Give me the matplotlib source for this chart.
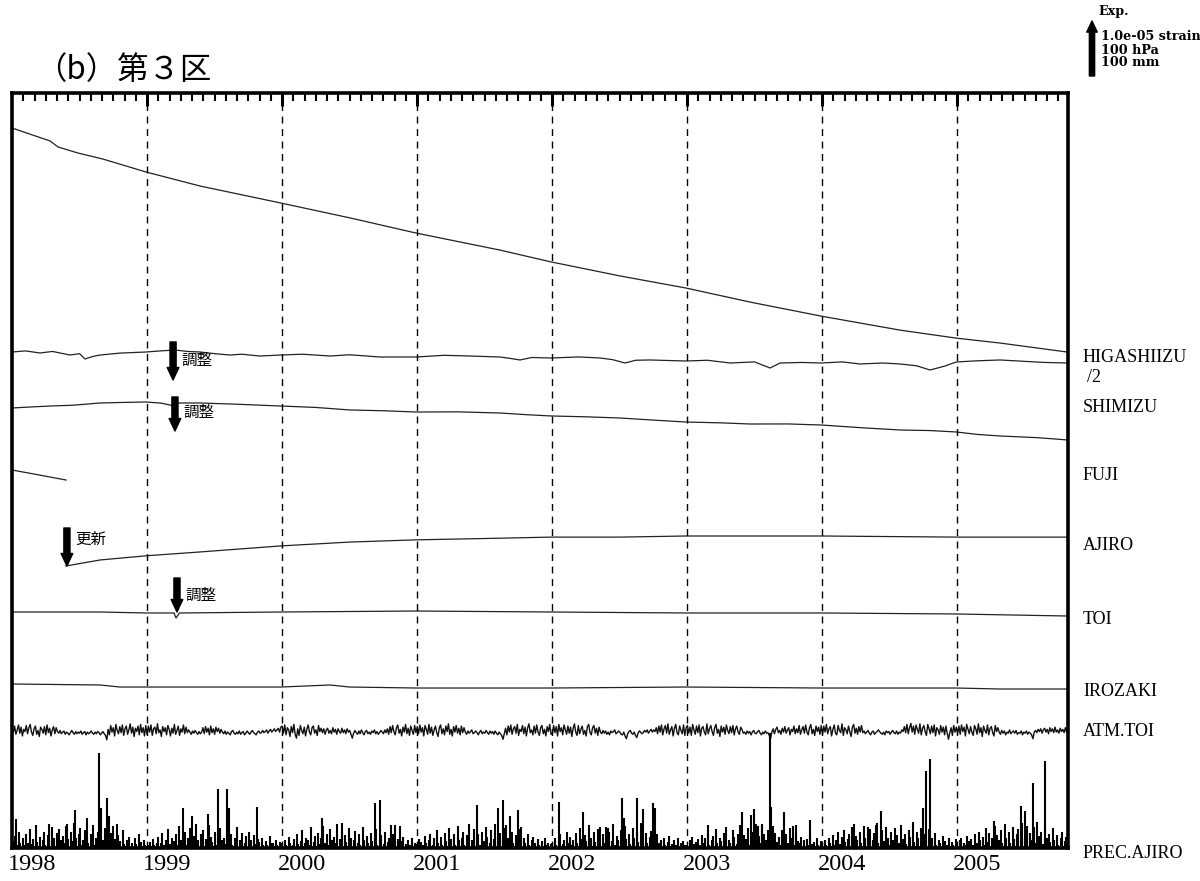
import numpy as np
import matplotlib
matplotlib.use("Agg")
import matplotlib.pyplot as plt
import matplotlib.transforms as mtransforms

# ---------------- data ----------------
years = [1998, 1999, 2000, 2001, 2002, 2003, 2004, 2005]
x_end = 2005.822

# strain traces: time (years since 1998.0) and strain change (1e-6)
higashiizu_t = [0.000, 0.281, 0.341, 0.489, 0.674, 0.993, 1.393, 1.993, 2.504, 2.993,
                3.615, 3.993, 4.504, 4.993, 5.467, 5.993, 6.578, 6.993, 7.319, 7.822]
higashiizu_v = [0.0, -4.7, -6.9, -9.1, -11.3, -16.0, -21.1, -27.3, -32.7, -38.2,
                -44.4, -48.7, -53.8, -58.2, -63.3, -68.4, -73.5, -76.4, -78.2, -81.5]

shimizu_t = [0.000, 0.100, 0.207, 0.300, 0.430, 0.500, 0.541, 0.600, 0.652, 0.800, 0.993,
             1.100, 1.207, 1.300, 1.393, 1.500, 1.615, 1.700, 1.837, 1.993, 2.150,
             2.356, 2.500, 2.726, 2.993, 3.200, 3.393, 3.615, 3.700, 3.763, 3.850, 3.993,
             4.200, 4.356, 4.450, 4.541, 4.620, 4.726, 4.993, 5.150, 5.319, 5.500, 5.615,
             5.689, 5.850, 5.993, 6.150, 6.281, 6.450, 6.578, 6.700, 6.800, 6.911, 6.993,
             7.150, 7.319, 7.500, 7.650, 7.822]
shimizu_v = [0.0, 0.2, -0.18, 0.1, -0.55, -0.3, -1.27, -0.8, -0.55, -0.2, 0.0,
             0.2, 0.36, 0.1, 0.0, -0.3, -0.55, -0.4, -0.73, -0.55, -0.4,
             -0.73, -0.5, -0.91, -0.91, -0.6, -0.73, -0.91, -1.2, -1.45, -1.0, -1.09,
             -0.9, -1.09, -1.4, -2.0, -1.5, -1.45, -1.64, -1.5, -2.0, -1.8, -2.91,
             -2.0, -1.9, -2.0, -1.8, -2.18, -2.0, -2.18, -2.5, -3.27, -2.55, -1.82,
             -1.6, -1.45, -1.7, -1.9, -2.0]

fuji_t = [0.000, 0.150, 0.281, 0.450, 0.652, 0.800, 0.993, 1.100, 1.207, 1.230, 1.393,
          1.650, 1.993, 2.250, 2.504, 2.750, 2.993, 3.300, 3.615, 3.800, 3.993, 4.250,
          4.504, 4.750, 4.993, 5.250, 5.467, 5.750, 5.993, 6.300, 6.578, 6.800, 6.993,
          7.150, 7.319, 7.600, 7.822]
fuji_v = [0.0, 0.2, 0.36, 0.5, 0.91, 1.0, 1.09, 0.9, 0.36, 0.91, 0.91,
          0.7, 0.36, 0.1, -0.36, -0.5, -0.73, -0.7, -0.91, -1.2, -1.45, -1.6,
          -1.82, -2.2, -2.55, -2.7, -2.91, -2.9, -3.09, -3.6, -4.0, -4.1, -4.36,
          -4.8, -5.09, -5.4, -5.82]

ajiro_t = [0.000, 0.200, 0.400, 0.400, 0.652, 0.993, 1.393, 1.993, 2.504, 2.993, 3.615,
           3.993, 4.504, 4.993, 5.993, 6.993, 7.822]
ajiro_v = [0.0, -0.9, -1.82, np.nan, -16.36, -15.6, -14.9, -13.8, -13.1, -12.7, -12.4,
           -12.2, -12.2, -12.0, -12.0, -12.2, -12.2]
ajiro_new_start = (0.400, -17.45)

toi_t = [0.000, 0.652, 0.993, 1.200, 1.215, 1.240, 1.993, 2.993, 3.993, 4.993, 5.993, 6.993, 7.822]
toi_v = [0.0, 0.0, -0.18, -0.18, -1.09, -0.18, 0.0, 0.18, 0.0, -0.18, -0.18, -0.36, -0.73]

irozaki_t = [0.000, 0.652, 0.800, 0.993, 1.993, 2.356, 2.500, 2.993, 3.993, 4.993, 5.993, 6.993, 7.319, 7.822]
irozaki_v = [0.0, -0.18, -0.55, -0.55, -0.55, -0.18, -0.55, -0.73, -0.73, -0.55, -0.73, -0.73, -0.91, -0.91]

# ATM.TOI pressure deviation (hPa), two samples per week
atm_1998 = [5,-3,9,-6,2,11,-4,7,-9,3,-1,10,-5,6,12,-2,-8,4,9,-6,1,-10,7,3,-4,8,-7,11,-3,5,-9,2,8,-5,6,
            -1,-4,1,-5,-2,0,-6,-2,-4,-7,-3,1,-3,-6,-1,-5,-2,-4,0,-6,-3,-1,-7,-2,-5,-3,0,-4,-6,-2,-5,-1,-3,-7,-4,-1,-5,-8,
            -16,
            3,-7,10,-2,6,-9,12,1,-5,8,-3,11,-8,4,9,-6,2,13,-4,7,-10,5,-1,9,-7,12,-3,6,-9,10]
atm_1999 = [-6,9,-2,11,-8,4,7,-5,13,-3,2,-10,8,-1,6,-7,10,3,-9,5,-4,12,-6,1,9,-8,4,-2,11,-5,7,-3,2,
            -2,-6,0,-4,1,-3,-6,-1,-5,-2,
            6,-5,8,-2,5,-7,9,-3,4,-6,7,-1,5,-4,3,
            -2,-5,0,-6,-2,-4,-7,-1,1,-4,-6,-2,-5,0,-6,-3,-1,-7,-4,0,-3,-6,-2,1,-3,-5,-7,-2,0,-4,-3,1,-3,-1,2,-4,0,3,-2,1,4,-1,2,
            5,-2,7]
atm_2000 = [9,-4,11,-7,6,2,-10,8,-3,12,-6,-13,4,-8,10,1,-5,7,-9,3,11,-2,-7,6,9,-4,2,-8,10,-1,5,
            -3,4,-6,2,5,-4,1,-5,6,-2,3,-6,4,-1,-4,5,-3,2,-5,4,-2,1,
            -6,-13,
            -4,1,-3,-6,0,-5,2,-3,-7,-1,1,-5,-2,-6,0,-3,2,-5,-1,-6,-3,1,-2,-5,2,-3,
            4,-6,8,-3,10,-1,-7,6,11,-4,3,-9,7,-2,12,-5,5,-8,9,1,-6,10,-3]
atm_2001 = [8,-5,11,-2,6,-9,10,3,-6,12,-4,7,-8,2,9,-3,-10,6,11,-5,4,-7,9,-1,13,-6,3,-9,8,-2,10,-4,5,-7,9,-3,6,
            -2,-6,0,-4,-1,2,-5,-3,0,-3,-7,-2,1,-5,-2,-4,1,-3,-6,0,-4,-1,-6,0,-4,-7,-2,-5,-8,
            -15,-5,
            5,-7,9,-2,11,-6,4,8,-4,12,-8,3,-1,10,-5,7,-9,6,13,-3,2,-7,9,-4,11,-2,-8,6,10,-5,3,-9,8,-1,12,-6]
atm_2002 = [-5,10,-3,8,-9,12,-1,6,-7,11,2,-6,9,-4,7,-10,5,13,-2,-8,10,-5,3,9,-6,1,-9,8,12,-3,-7,6,10,-4,5,-8,7,
            -2,-5,1,-4,0,-6,-2,-7,0,-3,-1,2,-5,-3,0,-2,-6,-7,-2,-9,-14,-5,-1,1,-4,-6,-2,-8,-12,-4,0,-2,-5,-3,1,-2,2,-4,0,3,-2,2,-1,
            6,-5,9,-2,11,-7,4,10,-4,13,-6,2,8,-9,5,12,-3,-7,9,1,-5,11,-8,6]
atm_2003 = [10,-4,7,-8,12,2,-6,9,-3,11,-9,5,8,-2,-7,13,-5,4,10,-1,-8,6,12,-4,3,-10,9,-2,7,-6,11,1,-5,8,-3,10,-7,4,9,-2,-6,7,3,-4,
            -2,-6,0,-4,-1,-7,-2,1,-4,-5,-1,1,-4,-7,-2,-5,0,-4,-3,
            -8,-14,
            -2,4,-5,3,7,-3,1,-6,5,-2,8,-4,2,6,-7,3,-1,9,-5,4,-3,10,-6,2,8,-4,11,-2,-7,6,12,-5,3,-8,9,-1,7,-6,10]
atm_2004 = [-6,9,-2,12,-5,4,8,-9,3,11,-4,-7,10,1,-3,13,-8,6,2,-5,9,-1,-10,7,12,-4,5,-6,8,-2,10,
            -3,0,-5,-2,1,-4,-7,-2,0,-6,-3,-1,2,-1,-4,-6,-2,-7,0,-3,-1,-6,-2,1,-3,-5,0,-6,-2,-4,2,-1,
            8,-3,12,-5,6,14,-2,9,-6,11,3,-4,13,-7,5,10,-1,-8,12,4,-5,9,-3,11,-9,6,2,-6,10,-2,7,-7,9,-4,
            -15,-3,6,-8,10,-2,7]
atm_2005 = [-4,9,-6,11,-1,7,-9,12,3,-5,8,-2,-8,10,4,-6,13,-3,6,-10,9,1,-4,11,-7,5,8,-3,-9,10,-1,6,
            -2,-6,1,-4,0,-7,-2,-4,2,-5,-2,0,-4,1,-6,-3,-4,0,-7,-2,-4,0,-6,-2,-4,
            -7,-14,
            -2,1,-3,3,-1,4,-4,2,5,-2,3,-5,6,-1,4,-3,7,-2,2,-4,5,-1,3,-3,6,-2,4]

# PREC.AJIRO rainfall (mm), two samples per week
prec_1998 = [12,3,22,6,0,30,9,2,18,5,26,0,10,35,4,8,16,2,42,11,4,20,0,14,30,6,2,24,12,0,
             38,8,18,3,28,6,34,14,2,22,10,40,5,17,0,30,12,45,7,19,3,26,36,6,14,2,32,20,9,0,
             25,12,42,5,18,2,30,10,22,3,14,36,6,0,19,11,28,4,8,16,2,24,5,12,0,33,8,3,15,6,
             20,2,10,0,18,7,2,26,5,11,0,14,6,3]
prec_1999 = [6,0,11,3,16,5,0,9,20,2,10,28,3,6,14,0,34,8,2,19,12,3,25,5,40,2,15,9,0,30,
             6,18,2,36,11,3,22,44,5,14,2,26,10,33,3,16,8,41,2,20,11,4,29,6,24,2,36,14,3,18,
             8,32,2,12,25,5,3,19,9,38,2,15,6,27,3,10,21,0,30,5,14,2,23,7,0,16,11,2,19,5,
             0,12,6,2,22,9,0,10,3,15,5,0,11,7]
prec_2000 = [9,2,14,5,0,20,10,3,6,16,2,25,7,0,12,32,3,9,19,0,15,6,38,2,11,22,3,28,8,0,
             18,40,3,10,26,6,2,34,14,0,20,9,44,3,16,5,29,2,23,11,3,36,7,19,0,14,31,2,10,25,
             6,0,39,15,2,22,9,3,28,12,0,18,35,5,2,14,24,0,8,29,2,11,19,0,6,26,3,10,0,16,
             5,0,12,20,2,7,0,14,6,0,18,3,9,5]
prec_2001 = [8,16,2,11,5,0,22,9,2,14,26,3,6,18,0,32,10,2,20,5,0,28,12,3,36,8,16,2,25,6,
             0,40,14,3,19,30,5,2,23,11,43,3,15,9,35,2,18,26,6,0,29,12,3,39,20,2,10,32,0,16,
             44,3,22,8,28,0,14,37,5,2,19,11,0,30,9,3,23,15,2,34,6,0,18,10,2,26,5,0,14,20,
             3,9,0,16,6,2,12,0,19,5,0,10,2,7]
prec_2002 = [10,2,18,6,0,13,25,3,8,15,2,30,9,0,20,5,14,2,28,10,3,36,6,16,2,23,12,0,41,8,
             19,3,29,11,2,34,15,5,0,26,9,39,3,18,30,2,12,43,6,0,22,14,3,33,10,2,40,16,0,25,
             8,3,37,19,0,29,11,2,45,5,15,2,28,9,0,20,31,3,6,16,2,25,10,0,14,3,19,5,0,11,
             22,3,8,0,15,6,2,18,0,9,3,12,5,2]
prec_2003 = [6,0,14,2,20,8,3,11,16,0,5,23,3,10,18,0,29,6,2,14,22,3,34,9,0,19,12,2,27,5,
             39,2,15,10,0,32,20,3,8,26,0,42,11,3,23,16,2,36,6,18,3,30,12,44,2,22,9,0,38,25,
             3,14,33,0,19,8,40,2,28,11,0,20,5,32,3,15,25,0,10,36,2,18,6,0,26,12,3,9,20,0,
             14,2,16,5,0,23,8,0,11,3,19,6,0,12]
prec_2004 = [9,2,15,5,0,19,10,3,23,6,0,14,29,3,8,20,2,33,11,0,16,26,3,38,6,2,22,14,0,30,
             10,3,40,18,2,25,8,35,0,15,28,3,45,9,2,20,32,0,12,39,3,19,6,29,0,14,36,2,23,10,
             0,42,16,3,26,8,0,33,20,2,47,11,3,29,18,0,37,6,2,25,14,0,35,9,2,19,3,28,5,0,
             15,10,2,22,0,12,6,0,18,3,11,5,0,16]
prec_2005 = [8,2,14,19,0,10,5,2,22,12,3,16,6,0,26,9,2,30,15,0,20,5,36,2,11,28,3,18,8,40,
             2,23,14,0,33,10,3,43,19,0,29,9,2,39,16,3,25,35,0,12,45,3,20,6,32,2,28,15,0,38,
             10,2,47,22,0,30,8,3,40,18,0,26,11,2,36,14,0,23,6,2,19,29,3,12,20,9]

# PREC.AJIRO heavy-rain days (decimal year, mm)
prec_event_t = [1998.030, 1998.274, 1998.407, 1998.467, 1998.556, 1998.644, 1998.659, 1998.704,
                1998.719, 1998.748, 1998.778, 1999.267, 1999.333, 1999.452, 1999.526, 1999.593,
                1999.607, 1999.815, 2000.296, 2000.444, 2000.689, 2000.726, 2000.807, 2000.837,
                2000.874, 2001.444, 2001.600, 2001.637, 2001.659, 2001.689, 2001.748, 2001.770,
                2002.052, 2002.230, 2002.356, 2002.415, 2002.519, 2002.533, 2002.630, 2002.674,
                2002.748, 2002.763, 2003.156, 2003.407, 2003.474, 2003.496, 2003.526, 2003.556,
                2003.615, 2003.622, 2003.719, 2003.785, 2003.807, 2003.911, 2004.237, 2004.341,
                2004.400, 2004.437, 2004.748, 2004.770, 2004.800, 2005.274, 2005.474, 2005.504,
                2005.519, 2005.563, 2005.652]
prec_event_mm = [53, 44, 44, 69, 55, 173, 73, 91,
                 58, 40, 44, 73, 58, 62, 107, 107,
                 73, 75, 55, 45, 82, 87, 42, 42,
                 40, 78, 73, 87, 42, 58, 69, 38,
                 84, 65, 38, 36, 91, 55, 91, 71,
                 82, 73, 42, 65, 60, 71, 40, 44,
                 209, 75, 65, 40, 42, 51, 44, 38,
                 42, 67, 73, 140, 162, 49, 76, 68,
                 40, 118, 158]

labels = ["HIGASHIIZU", "SHIMIZU", "FUJI", "AJIRO", "TOI", "IROZAKI", "ATM.TOI", "PREC.AJIRO"]

# ---------------- layout / style ----------------
W, H = 1200, 881
fig = plt.figure(figsize=(W / 100, H / 100), dpi=100)
ax = fig.add_axes([12 / W, 33 / H, 1056 / W, 755 / H])

PX = 5.5                      # pixels per unit (1e-6 strain / 10 hPa / 10 mm)
ymax = 755 / PX
def ypix(p):                  # reference pixel row -> axis units
    return (848 - p) / PX

line_kw = dict(color="#222222", lw=0.9)
base = {"HIGASHIIZU": ypix(128), "SHIMIZU": ypix(352), "FUJI": ypix(408),
        "AJIRO": ypix(470), "TOI": ypix(612), "IROZAKI": ypix(684), "ATM.TOI": ypix(731)}

ax.plot(1998 + np.array(higashiizu_t), base["HIGASHIIZU"] + np.array(higashiizu_v) / 2, **line_kw)
ax.plot(1998 + np.array(shimizu_t), base["SHIMIZU"] + np.array(shimizu_v), **line_kw)
ax.plot(1998 + np.array(fuji_t), base["FUJI"] + np.array(fuji_v), **line_kw)
at = np.array(ajiro_t, dtype=float)
av = np.array(ajiro_v, dtype=float)
ax.plot(1998 + at[:3], base["AJIRO"] + av[:3], **line_kw)
ax.plot(1998 + np.r_[ajiro_new_start[0], at[4:]], base["AJIRO"] + np.r_[ajiro_new_start[1], av[4:]], **line_kw)
ax.plot(1998 + np.array(toi_t), base["TOI"] + np.array(toi_v), **line_kw)
ax.plot(1998 + np.array(irozaki_t), base["IROZAKI"] + np.array(irozaki_v), **line_kw)

atm = np.array(atm_1998 + atm_1999 + atm_2000 + atm_2001 + atm_2002 + atm_2003 + atm_2004 + atm_2005, float)
atm_t = np.linspace(1998.0, x_end, len(atm))
ax.plot(atm_t, base["ATM.TOI"] + atm * 0.1, color="#111111", lw=1.0)

prec = np.array(prec_1998 + prec_1999 + prec_2000 + prec_2001 + prec_2002 + prec_2003 + prec_2004 + prec_2005, float)
prec_t = np.linspace(1998.005, x_end - 0.005, len(prec))
ax.vlines(prec_t, 0, prec * 0.1, color="k", lw=1.5)
ax.vlines(prec_event_t, 0, np.array(prec_event_mm) * 0.1, color="k", lw=1.5)

ax.set_xlim(1998, x_end)
ax.set_ylim(0, ymax)

for y in years[1:]:
    ax.axvline(y, color="k", lw=1.0, ls=(0, (5, 4)))

for s in ax.spines.values():
    s.set_linewidth(2.6)

ax.xaxis.set_ticks_position("top")
ax.set_xticks(years[1:])
ax.set_xticks([1998 + m / 12 for m in range(1, 94) if m % 12 != 0], minor=True)
ax.tick_params(axis="x", which="major", direction="in", length=9, width=2.2, labeltop=False, labelbottom=False)
ax.tick_params(axis="x", which="minor", direction="in", length=6, width=1.5)
ax.set_yticks([])

serif = ["Liberation Serif", "DejaVu Serif"]
trans = mtransforms.blended_transform_factory(ax.transData, ax.transAxes)
for y in years:
    ax.text(y + 0.15, -0.0225, str(y), transform=trans, ha="center", va="center",
            family=serif, fontsize=17.5)

lab_px = [357, 408, 476, 545, 620, 692, 732, 854]
transr = mtransforms.blended_transform_factory(ax.transAxes, ax.transData)
for lab, p in zip(labels, lab_px):
    ax.text((1083 - 12) / 1056, ypix(p), lab, transform=transr, ha="left", va="center",
            family=serif, fontsize=13)
ax.text((1087 - 12) / 1056, ypix(378), "/2", transform=transr, ha="left", va="center",
        family=serif, fontsize=13)

# event annotations
cjk = ["Noto Sans CJK JP", "DejaVu Sans"]
arrow_kw = dict(arrowstyle="simple,head_length=0.45,head_width=0.42,tail_width=0.22",
                color="k", shrinkA=0, shrinkB=0, mutation_scale=20)
notes = [("調整", 1999.193, 342, 380, 360), ("調整", 1999.207, 397, 431, 412),
         ("更新", 1998.407, 528, 566, 539), ("調整", 1999.222, 578, 612, 595)]
for txt, xv, p0, p1, pt in notes:
    ax.annotate("", xy=(xv, ypix(p1)), xytext=(xv, ypix(p0)), arrowprops=arrow_kw)
    ax.text(xv + 0.06, ypix(pt), txt, ha="left", va="center", family=cjk, fontsize=11.2)

# title
fig.text(35 / W, 1 - 70 / H, "（b）第３区", family=cjk, fontsize=22.6, ha="left", va="center")

# scale legend
fig.text(1098 / W, 1 - 12 / H, "Exp.", family=["DejaVu Serif"], weight="bold", fontsize=9.2,
         ha="left", va="center")
for t, p in [("1.0e-05 strain", 37), ("100 hPa", 50), ("100 mm", 63)]:
    fig.text(1101 / W, 1 - p / H, t, family=["DejaVu Serif"], weight="bold", fontsize=9.2,
             ha="left", va="center")
ax.annotate("", xy=(1092, H - 21), xytext=(1092, H - 21 - 10 * PX), xycoords="figure pixels",
            textcoords="figure pixels",
            arrowprops=dict(arrowstyle="simple,head_length=0.4,head_width=0.38,tail_width=0.19",
                            color="k", shrinkA=0, shrinkB=0, mutation_scale=20),
            annotation_clip=False)

fig.savefig("out.png", dpi=100)
